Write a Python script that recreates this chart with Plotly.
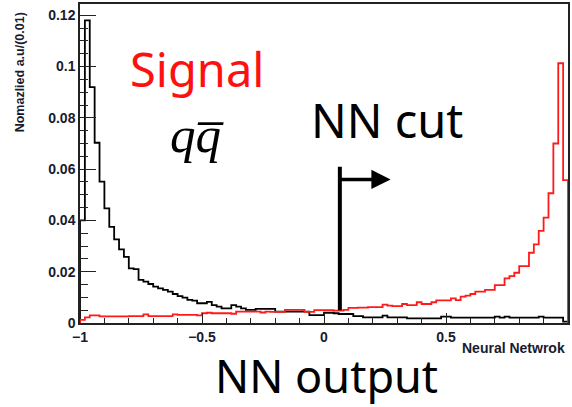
import numpy as np
import plotly.graph_objects as go

# ---- data (100 bins from -1 to 1, width 0.02) ----
bin_lo, bin_hi, n_bins = -1.0, 1.0, 100

qq_values = [
    0.040, 0.118, 0.092, 0.0703, 0.0551, 0.0447, 0.0375, 0.0326, 0.0287, 0.0258,
    0.0213, 0.0210, 0.0168, 0.0161, 0.0152, 0.0142, 0.0135, 0.0129, 0.0122, 0.0113,
    0.0105, 0.0099, 0.0090, 0.0087, 0.0077, 0.0077, 0.0082, 0.0070, 0.0064, 0.0057,
    0.0057, 0.0070, 0.0064, 0.0057, 0.0051, 0.0051, 0.0055, 0.0055, 0.0055, 0.0055,
    0.0044, 0.0044, 0.0044, 0.0044, 0.0044, 0.0044, 0.0044, 0.0031, 0.0031, 0.0031,
    0.0040, 0.0040, 0.0038, 0.0035, 0.0035, 0.0035, 0.0027, 0.0027, 0.0022, 0.0022,
    0.0022, 0.0022, 0.0029, 0.0022, 0.0022, 0.0022, 0.0022, 0.0018, 0.0018, 0.0018,
    0.0018, 0.0018, 0.0018, 0.0018, 0.0025, 0.0025, 0.0021, 0.0021, 0.0021, 0.0021,
    0.0021, 0.0021, 0.0021, 0.0021, 0.0021, 0.0025, 0.0021, 0.0025, 0.0021, 0.0021,
    0.0021, 0.0021, 0.0021, 0.0021, 0.0025, 0.0021, 0.0021, 0.0021, 0.0021, 0.0005,
]

signal_values = [
    0.0012, 0.0022, 0.0030, 0.0030, 0.0026, 0.0026, 0.0026, 0.0026, 0.0026, 0.0026,
    0.0027, 0.0027, 0.0027, 0.0034, 0.0027, 0.0027, 0.0027, 0.0027, 0.0027, 0.0034,
    0.0032, 0.0032, 0.0032, 0.0032, 0.0030, 0.0038, 0.0040, 0.0038, 0.0038, 0.0038,
    0.0038, 0.0036, 0.0044, 0.0044, 0.0044, 0.0044, 0.0044, 0.0041, 0.0044, 0.0043,
    0.0043, 0.0043, 0.0051, 0.0051, 0.0051, 0.0051, 0.0043, 0.0043, 0.0050, 0.0050,
    0.0050, 0.0050, 0.0048, 0.0048, 0.0051, 0.0059, 0.0059, 0.0060, 0.0060, 0.0062,
    0.0062, 0.0062, 0.0072, 0.0068, 0.0066, 0.0066, 0.0074, 0.0070, 0.0070, 0.0081,
    0.0074, 0.0074, 0.0081, 0.0088, 0.0088, 0.0088, 0.0096, 0.0089, 0.0103, 0.0107,
    0.0113, 0.0122, 0.0122, 0.0129, 0.0129, 0.0148, 0.0148, 0.0174, 0.0183, 0.0196,
    0.0222, 0.0222, 0.0274, 0.0307, 0.0359, 0.0411, 0.0506, 0.0700, 0.1013, 0.0557,
]

x_tick_vals = [-1, -0.5, 0, 0.5, 1]
x_tick_text = ["\u22121", "\u22120.5", "0", "0.5", "1"]
y_tick_vals = [0, 0.02, 0.04, 0.06, 0.08, 0.1, 0.12]
y_tick_text = ["0", "0.02", "0.04", "0.06", "0.08", "0.1", "0.12"]

nn_cut = 0.065

# ---- helpers ----
edges = np.linspace(bin_lo, bin_hi, n_bins + 1)


def step_xy(vals):
    xs = [bin_lo] + list(edges[:-1]) + [bin_hi, bin_hi]
    ys = [0] + list(vals) + [vals[-1], 0]
    return xs, ys


fig = go.Figure()
for vals, col in [(qq_values, "black"), (signal_values, "#ff1a1a")]:
    xs, ys = step_xy(vals)
    fig.add_trace(go.Scatter(x=xs, y=ys, mode="lines", line=dict(color=col, width=1.8, shape="hv"),
                             showlegend=False, hoverinfo="skip"))

tickfont = dict(family="Liberation Sans", size=14, color="#1a1a2e", weight="bold")

fig.update_layout(
    width=572, height=407,
    margin=dict(l=80, r=2, t=4, b=84),
    paper_bgcolor="white", plot_bgcolor="white",
    xaxis=dict(range=[bin_lo, bin_hi], showgrid=False, zeroline=False,
               showline=True, linecolor="#222", linewidth=1.5, mirror=True,
               ticks="inside", ticklen=10, tickwidth=1.3, tickcolor="#222",
               tickvals=x_tick_vals, ticktext=x_tick_text, tickfont=tickfont,
               minor=dict(dtick=0.1, tick0=0, ticks="inside", ticklen=5, tickwidth=1.3, tickcolor="#222")),
    yaxis=dict(range=[0, 0.1244], showgrid=False, zeroline=False,
               showline=True, linecolor="#222", linewidth=1.5, mirror=True,
               ticks="inside", ticklen=16, tickwidth=1.3, tickcolor="#222",
               tickvals=y_tick_vals, ticktext=y_tick_text, tickfont=tickfont,
               minor=dict(dtick=0.005, tick0=0, ticks="inside", ticklen=8, tickwidth=1.3, tickcolor="#222")),
)

# NN cut marker
fig.add_shape(type="line", x0=nn_cut, x1=nn_cut, y0=0.005, y1=0.0609,
              line=dict(color="black", width=4), xref="x", yref="y")
fig.add_annotation(x=0.273, y=0.056, ax=nn_cut - 0.006, ay=0.056, xref="x", yref="y", axref="x", ayref="y",
                   text="", showarrow=True, arrowhead=2, arrowsize=1.1, arrowwidth=3.5, arrowcolor="black")

big = "Noto Sans"
fig.add_annotation(text="Signal", x=0.2398, y=0.795, xref="paper", yref="paper", showarrow=False,
                   font=dict(family=big, size=47, color="#ff1010"), xanchor="center", yanchor="middle")
fig.add_annotation(text="<i>qq\u0305</i>", x=0.2388, y=0.59, xref="paper", yref="paper", showarrow=False,
                   font=dict(family="Liberation Serif", size=51, color="black"), xanchor="center", yanchor="middle")
fig.add_annotation(text="NN cut", x=0.6286, y=0.635, xref="paper", yref="paper", showarrow=False,
                   font=dict(family=big, size=47, color="black"), xanchor="center", yanchor="middle")
fig.add_annotation(text="NN output", x=0.506, y=-0.166, xref="paper", yref="paper", showarrow=False,
                   font=dict(family=big, size=45, color="black"), xanchor="center", yanchor="middle")

# axis titles
fig.add_annotation(text="Nomazlied a.u/(0.01)", x=-0.1224, y=0.981, xref="paper", yref="paper",
                   showarrow=False, textangle=-90, xanchor="center", yanchor="top",
                   font=dict(family="Liberation Sans", size=12.5, color="#1a1a2e", weight="bold"))
fig.add_annotation(text="Neural Netwrok", x=0.998, y=-0.078, xref="paper", yref="paper",
                   showarrow=False, xanchor="right", yanchor="middle",
                   font=dict(family="Liberation Sans", size=14, color="#1a1a2e", weight="bold"))

fig.write_html("out.html", config={"displayModeBar": False},
               post_script="document.body.style.margin='0';")
